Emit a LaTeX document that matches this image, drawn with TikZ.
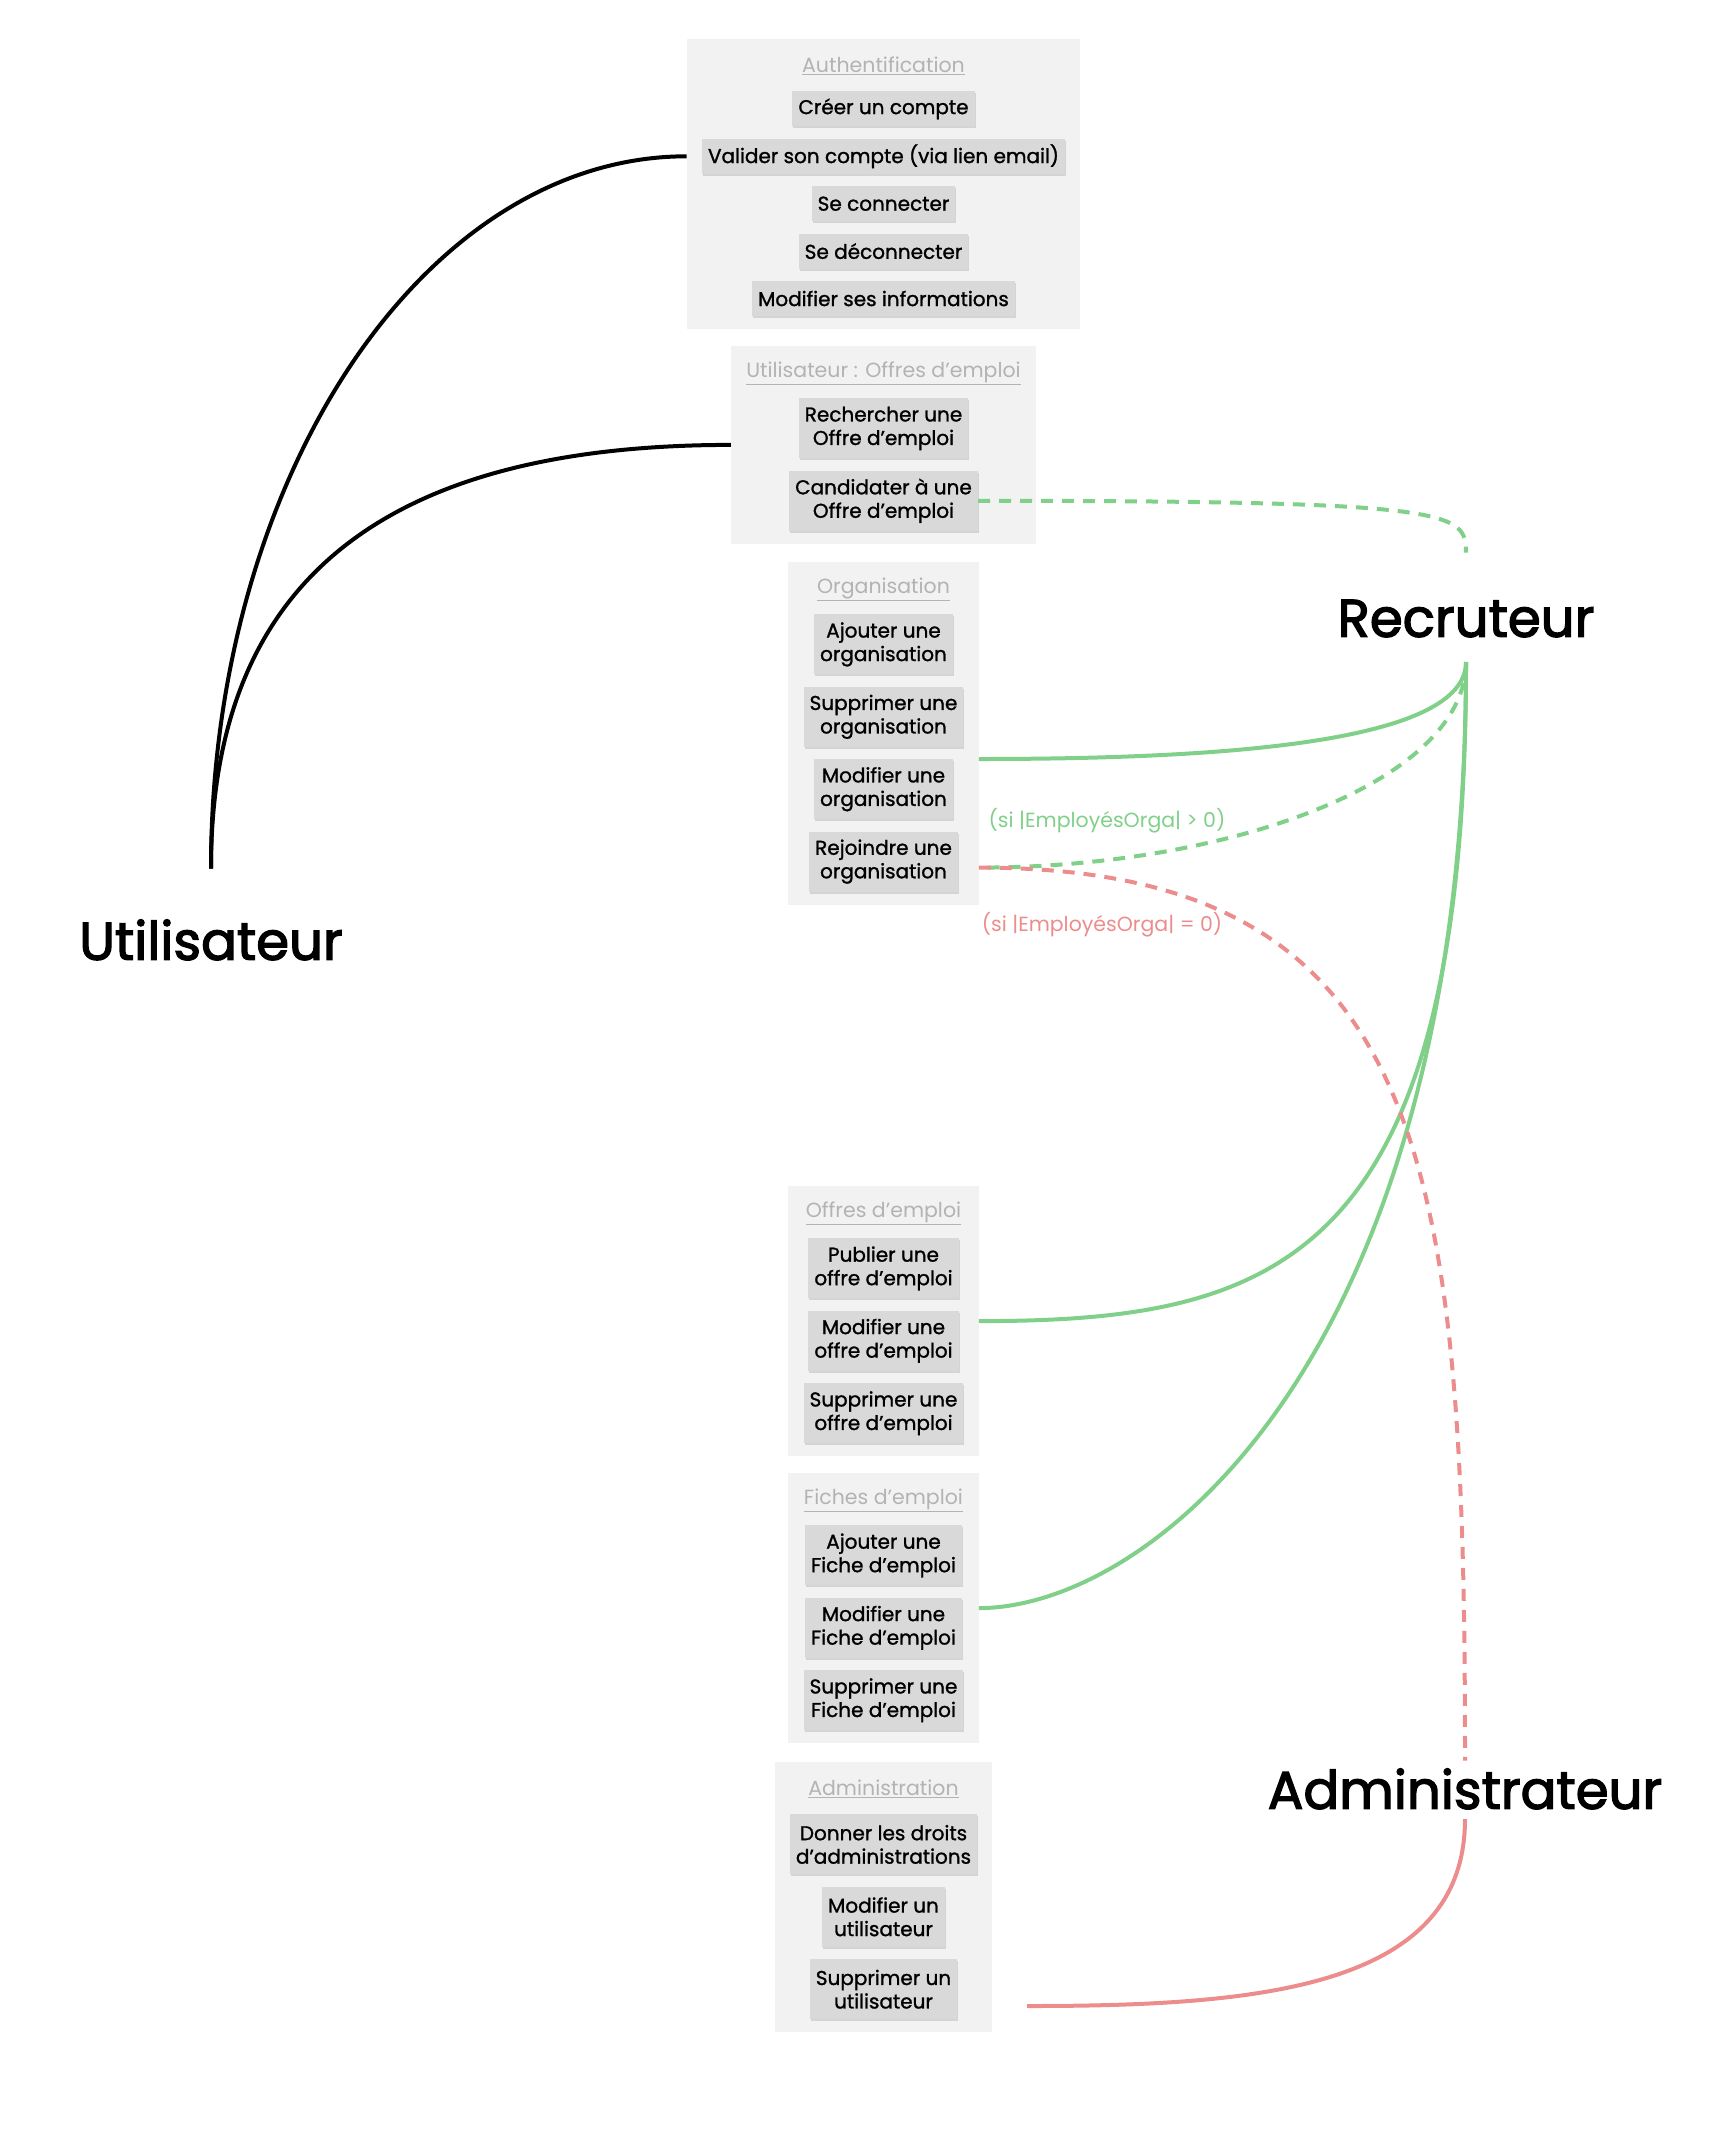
\documentclass[tikz,border=0pt]{standalone}
\usepackage{fontspec}
\setmainfont{Poppins}
\newfontfamily\itemfont{Poppins}[FakeBold=1.2]
\newfontfamily\actorfont{Poppins}[FakeBold=2.5]
\usetikzlibrary{positioning,fit,backgrounds,calc,shadows}

\definecolor{grpfill}{HTML}{F2F2F2}
\definecolor{itemfill}{HTML}{D9D9D9}
\definecolor{titlegray}{HTML}{B3B3B3}
\definecolor{recgreen}{HTML}{80D08A}
\definecolor{admred}{HTML}{EC8C8C}

\begin{document}
\begin{tikzpicture}[x=1pt,y=-1pt,
    action/.style={fill=itemfill,inner xsep=6pt,inner ysep=0pt,minimum height=35pt,align=center,
        font=\itemfont\fontsize{20}{23.5}\selectfont,
        drop shadow={shadow xshift=1pt,shadow yshift=-2pt,opacity=0.12,fill=black}},
    action2/.style={action,minimum height=60pt},
    grptitle/.style={text=titlegray,font=\fontsize{20.5}{24}\selectfont,minimum height=28pt,inner sep=0pt},
    grp/.style={fill=grpfill,inner xsep=15pt,inner ysep=13pt},
    actor/.style={font=\actorfont\fontsize{53}{60}\selectfont,inner sep=0pt,text height=36pt,text depth=0pt,anchor=south},
    link/.style={line width=4pt},
    dashline/.style={dash pattern=on 12pt off 9pt},
    cond/.style={font=\fontsize{20.5}{24}\selectfont,inner sep=0pt}]

\useasboundingbox (0,0) rectangle (1728,2137);

% acteurs
\node[actor] (util) at (211,960) {Utilisateur};
\node[actor] (rec) at (1466,637) {Recruteur};
\node[actor] (adm) at (1465,1809) {Administrateur};

% Authentification
\node[grptitle] (authT) at (883.5,66) {\underline{Authentification}};
\node[action] (creer) [below=11pt of authT] {Créer un compte};
\node[action] (valider) [below=12pt of creer] {Valider son compte (via lien email)};
\node[action] (connect) [below=12pt of valider] {Se connecter};
\node[action] (deconnect) [below=12pt of connect] {Se déconnecter};
\node[action] (modinfo) [below=12pt of deconnect] {Modifier ses informations};

% Utilisateur : Offres d'emploi
\node[grptitle] (usrT) at (883.5,373) {\underline{Utilisateur : Offres d’emploi}};
\node[action2] (rech) [below=11pt of usrT] {Rechercher une\\Offre d’emploi};
\node[action2] (cand) [below=12pt of rech] {Candidater à une\\Offre d’emploi};

% Organisation
\node[grptitle] (orgT) at (883.5,589) {\underline{Organisation}};
\node[action2] (ajorg) [below=11pt of orgT] {Ajouter une\\organisation};
\node[action2] (suporg) [below=12pt of ajorg] {Supprimer une\\organisation};
\node[action2] (modorg) [below=12pt of suporg] {Modifier une\\organisation};
\node[action2] (rejorg) [below=12pt of modorg] {Rejoindre une\\organisation};

% Offres d'emploi
\node[grptitle] (jobT) at (883.5,1213) {\underline{Offres d’emploi}};
\node[action2] (pubjob) [below=11pt of jobT] {Publier une\\offre d’emploi};
\node[action2] (modjob) [below=12pt of pubjob] {Modifier une\\offre d’emploi};
\node[action2] (supjob) [below=12pt of modjob] {Supprimer une\\offre d’emploi};

% Fiches d'emploi
\node[grptitle] (fichT) at (883.5,1500) {\underline{Fiches d’emploi}};
\node[action2] (ajfich) [below=11pt of fichT] {Ajouter une\\Fiche d’emploi};
\node[action2] (modfich) [below=12pt of ajfich] {Modifier une\\Fiche d’emploi};
\node[action2] (supfich) [below=12pt of modfich] {Supprimer une\\Fiche d’emploi};

% Administration
\node[grptitle] (admT) at (883.5,1789) {\underline{Administration}};
\node[action2] (droits) [below=11pt of admT] {Donner les droits\\d’administrations};
\node[action2] (modutil) [below=12pt of droits] {Modifier un\\utilisateur};
\node[action2] (suputil) [below=12pt of modutil] {Supprimer un\\utilisateur};

\begin{scope}[on background layer]
  \node[grp,fit=(authT)(creer)(valider)(connect)(deconnect)(modinfo)] (authbox) {};
  \node[grp,fit=(usrT)(rech)(cand)] (usrbox) {};
  \node[grp,fit=(orgT)(ajorg)(suporg)(modorg)(rejorg)] (orgbox) {};
  \node[grp,fit=(jobT)(pubjob)(modjob)(supjob)] (jobbox) {};
  \node[grp,fit=(fichT)(ajfich)(modfich)(supfich)] (fichbox) {};
  \node[grp,fit=(admT)(droits)(modutil)(suputil)] (admbox) {};
\end{scope}

\coordinate (admend) at (1027,2006);

% liens utilisateur
\draw[link] ([yshift=55pt]util.north) .. controls +(0,-392) and +(-262,0) .. (valider -| authbox.west);
\draw[link] ([yshift=55pt]util.north) .. controls +(0,-285) and +(-350,0) .. (usrbox.west);

% liens recruteur
\draw[link,recgreen,dashline] (cand.east) .. controls +(476,0) and +(0,-41) .. ([yshift=48pt]rec.north);
\draw[link,recgreen] ([yshift=-25pt]rec.south) .. controls +(0,80) and +(250,0) .. (modorg.north -| orgbox.east);
\draw[link,recgreen,dashline] ([yshift=-25pt]rec.south) .. controls +(0,120) and +(250,0) .. ($(rejorg.east -| orgbox.east)+(0,6)$);
\draw[link,recgreen] ([yshift=-25pt]rec.south) .. controls +(0,600) and +(300,0) .. (jobbox.east);
\draw[link,recgreen] ([yshift=-25pt]rec.south) .. controls +(0,700) and +(170,0) .. (fichbox.east);

% liens administrateur
\draw[link,admred,dashline] ($(rejorg.east -| orgbox.east)+(0,6)$) .. controls +(450,0) and +(0,-600) .. ([yshift=12pt]adm.north);
\draw[link,admred] ([yshift=-10pt]adm.south) .. controls +(0,170) and +(230,0) .. (admend);

\node[cond,text=recgreen] (condyes) at (1107,821) {(si |EmployésOrga| > 0)};
\node[cond,text=admred] (condno) at (1102,925) {(si |EmployésOrga| = 0)};

\end{tikzpicture}
\end{document}
